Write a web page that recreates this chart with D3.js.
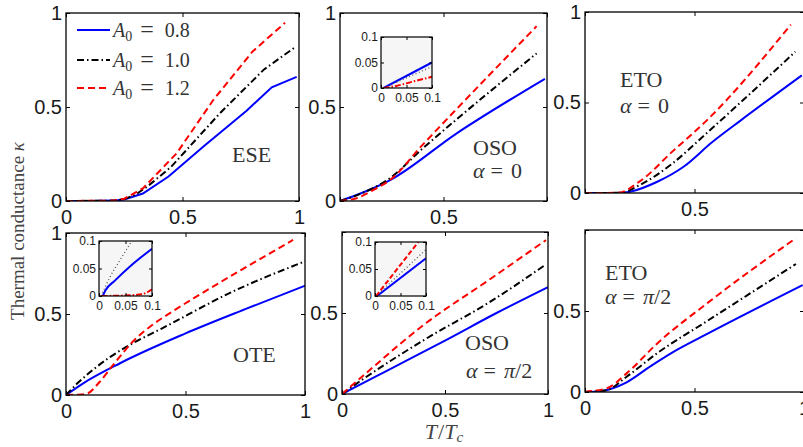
<!DOCTYPE html>
<html>
<head>
<meta charset="utf-8">
<script src="https://cdn.jsdelivr.net/npm/d3@7"></script>
<style>
body { margin: 0; background: #fff; }
svg { display: block; }
</style>
</head>
<body>
<script>
// values: x = T/Tc, y = thermal conductance kappa
var amplitudes = ["0.8", "1.0", "1.2"];
var xTicks = [0, 0.5, 1];
var yTicks = [0, 0.5, 1];
var insetTicks = [0, 0.05, 0.1];

// ESE
var eseBlue = [[0,0],[0.1,0],[0.2,0.002],[0.25,0.008],[0.33,0.04],[0.44,0.13],[0.59,0.29],[0.775,0.48],[0.883,0.605],[0.99,0.66]];
var eseBlack = [[0,0],[0.2,0.002],[0.25,0.01],[0.3,0.035],[0.35,0.078],[0.45,0.18],[0.66,0.466],[0.85,0.70],[0.98,0.815]];
var eseRed = [[0,0],[0.2,0.002],[0.25,0.012],[0.33,0.067],[0.475,0.254],[0.632,0.537],[0.80,0.794],[0.94,0.948]];

// OSO, alpha = 0
var oso0Blue = [[0,0],[0.08,0.032],[0.24,0.11],[0.564,0.36],[0.99,0.65]];
var oso0Black = [[0,0],[0.08,0.03],[0.24,0.12],[0.4,0.28],[0.564,0.435],[0.95,0.785]];
var oso0Red = [[0,0],[0.08,0.015],[0.16,0.058],[0.24,0.11],[0.4,0.3],[0.564,0.49],[0.95,0.93]];
var oso0InsetBlue = [[0.005,0],[0.1,0.05]];
var oso0InsetBlack = [[0.005,0],[0.1,0.042]];
var oso0InsetRed = [[0.005,0],[0.03,0.004],[0.06,0.012],[0.1,0.022]];

// ETO, alpha = 0
var eto0Blue = [[0,0],[0.15,0],[0.206,0.007],[0.33,0.062],[0.45,0.145],[0.58,0.28],[0.71,0.40],[0.99,0.65]];
var eto0Black = [[0,0],[0.16,0.001],[0.25,0.044],[0.4,0.164],[0.555,0.33],[0.96,0.78]];
var eto0Red = [[0,0],[0.15,0.001],[0.25,0.064],[0.4,0.23],[0.555,0.4],[0.94,0.93]];

// OTE
var oteBlue = [[0,0],[0.072,0.072],[0.226,0.196],[0.5,0.38],[0.75,0.53],[1,0.675]];
var oteBlack = [[0,0],[0.05,0.075],[0.1,0.14],[0.18,0.23],[0.28,0.32],[0.4,0.41],[0.7,0.64],[1,0.825]];
var oteRed = [[0,0],[0.05,0.002],[0.09,0.01],[0.14,0.08],[0.2,0.19],[0.28,0.33],[0.35,0.42],[0.45,0.52],[0.56,0.62],[0.95,0.957]];
var oteInsetBlue = [[0.007,0],[0.012,0.01],[0.03,0.028],[0.06,0.055],[0.1,0.086]];
var oteInsetBlack = [[0.004,0],[0.02,0.033],[0.04,0.066],[0.062,0.1]];
var oteInsetRed = [[0.005,0],[0.05,0.001],[0.08,0.003],[0.1,0.012]];

// OSO, alpha = pi/2
var oso90Blue = [[0,0],[0.25,0.165],[0.5,0.33],[0.75,0.5],[1,0.66]];
var oso90Black = [[0,0],[0.1,0.09],[0.4,0.335],[0.72,0.57],[0.99,0.8]];
var oso90Red = [[0,0],[0.1,0.11],[0.4,0.43],[0.72,0.71],[0.99,0.95]];
var oso90InsetBlue = [[0.004,0],[0.1,0.07]];
var oso90InsetBlack = [[0.002,0],[0.1,0.086]];
var oso90InsetRed = [[0.002,0],[0.085,0.1]];

// ETO, alpha = pi/2
var eto90Blue = [[0,0],[0.069,0.005],[0.19,0.06],[0.3,0.16],[0.4,0.245],[0.56,0.36],[0.994,0.66]];
var eto90Black = [[0,0],[0.1,0.012],[0.19,0.094],[0.33,0.24],[0.56,0.44],[0.963,0.79]];
var eto90Red = [[0,0.002],[0.1,0.023],[0.19,0.115],[0.33,0.3],[0.56,0.55],[0.963,0.95]];

var serif = '"Liberation Serif","DejaVu Serif",serif';
var sans = '"Liberation Sans",Arial,sans-serif';

var mainStyles = [
    {color: "#0000ff", dash: null, width: 2},
    {color: "#000000", dash: "7,3,1.5,3", width: 2},
    {color: "#ff0000", dash: "7,4", width: 2}
];

var panels = [
    {id: "ese", x: [66, 299], y: [201, 13], xShow: [0, 0.5, 1], yShow: [0, 0.5, 1], curve: d3.curveLinear,
        series: [eseBlue, eseBlack, eseRed]},
    {id: "oso0", x: [340, 547], y: [201, 13], xShow: [0.5], yShow: [0, 0.5, 1], curve: d3.curveMonotoneX,
        series: [oso0Blue, oso0Black, oso0Red],
        inset: {x: [381, 432], y: [88, 37], series: [oso0InsetBlue, oso0InsetBlack, oso0InsetRed], redDash: "6,2,1.5,2"}},
    {id: "eto0", x: [585, 804], y: [193, 12], xShow: [0.5], yShow: [0, 0.5, 1], curve: d3.curveMonotoneX,
        series: [eto0Blue, eto0Black, eto0Red]},
    {id: "ote", x: [66, 305], y: [395, 233], xShow: [0, 0.5, 1], yShow: [0, 0.5, 1], curve: d3.curveMonotoneX,
        series: [oteBlue, oteBlack, oteRed],
        inset: {x: [99, 152], y: [296, 241], series: [oteInsetBlue, oteInsetBlack, oteInsetRed], redDash: "6,2,1.5,2"}},
    {id: "oso90", x: [342, 548], y: [394, 232], xShow: [0, 0.5, 1], yShow: [0, 0.5], curve: d3.curveMonotoneX,
        series: [oso90Blue, oso90Black, oso90Red],
        inset: {x: [375, 426], y: [296, 242], series: [oso90InsetBlue, oso90InsetBlack, oso90InsetRed], redDash: "5,2.5"}},
    {id: "eto90", x: [585, 804], y: [392, 230], xShow: [0, 0.5, 1], yShow: [0, 0.5], curve: d3.curveMonotoneX,
        series: [eto90Blue, eto90Black, eto90Red]}
];

var svg = d3.select("body").append("svg")
    .attr("width", 803)
    .attr("height", 447);
var defs = svg.append("defs");
var fmt = d3.format("");

function styleAxis(g, size) {
    g.attr("font-size", size).attr("font-family", sans);
    g.select(".domain").remove();
    g.selectAll(".tick line").attr("stroke", "#000");
    g.selectAll(".tick text").attr("fill", "#1a1a1a");
}

function drawFrame(g, x, y, tick, pad, size, xShow, yShow, ticks) {
    g.append("g")
        .attr("transform", "translate(0," + y.range()[0] + ")")
        .call(d3.axisBottom(x).tickValues(ticks).tickSize(-tick).tickPadding(pad)
            .tickFormat(function (d) { return xShow.indexOf(d) >= 0 ? fmt(d) : ""; }))
        .call(styleAxis, size);
    g.append("g")
        .attr("transform", "translate(0," + y.range()[1] + ")")
        .call(d3.axisTop(x).tickValues(ticks).tickSize(-tick).tickFormat(""))
        .call(styleAxis, size);
    g.append("g")
        .attr("transform", "translate(" + x.range()[0] + ",0)")
        .call(d3.axisLeft(y).tickValues(ticks).tickSize(-tick).tickPadding(pad > 5 ? 4 : 3)
            .tickFormat(function (d) { return yShow.indexOf(d) >= 0 ? fmt(d) : ""; }))
        .call(styleAxis, size);
    g.append("g")
        .attr("transform", "translate(" + x.range()[1] + ",0)")
        .call(d3.axisRight(y).tickValues(ticks).tickSize(-tick).tickFormat(""))
        .call(styleAxis, size);
    g.append("rect")
        .attr("class", "frame")
        .attr("x", x.range()[0])
        .attr("y", y.range()[1])
        .attr("width", x.range()[1] - x.range()[0])
        .attr("height", y.range()[0] - y.range()[1])
        .attr("fill", "none")
        .attr("stroke", "#000")
        .attr("stroke-width", 1.3);
}

function clipFor(id, x, y) {
    defs.append("clipPath").attr("id", "clip-" + id)
        .append("rect")
        .attr("x", x.range()[0])
        .attr("y", y.range()[1])
        .attr("width", x.range()[1] - x.range()[0])
        .attr("height", y.range()[0] - y.range()[1]);
    return "url(#clip-" + id + ")";
}

panels.forEach(function (p) {
    var x = d3.scaleLinear().domain([0, 1]).range(p.x);
    var y = d3.scaleLinear().domain([0, 1]).range(p.y);
    var g = svg.append("g").attr("class", "panel " + p.id);

    var line = d3.line()
        .x(function (d) { return x(d[0]); })
        .y(function (d) { return y(d[1]); })
        .curve(p.curve);

    g.append("g")
        .attr("clip-path", clipFor(p.id, x, y))
        .selectAll("path")
        .data(p.series)
        .join("path")
        .attr("d", line)
        .attr("fill", "none")
        .attr("stroke", function (d, i) { return mainStyles[i].color; })
        .attr("stroke-width", function (d, i) { return mainStyles[i].width; })
        .attr("stroke-dasharray", function (d, i) { return mainStyles[i].dash; });

    drawFrame(g, x, y, 4, 9, 20, p.xShow, p.yShow, xTicks);

    if (p.inset) {
        var ix = d3.scaleLinear().domain([0, 0.1]).range(p.inset.x);
        var iy = d3.scaleLinear().domain([0, 0.1]).range(p.inset.y);
        var ig = svg.append("g").attr("class", "inset");
        ig.append("rect")
            .attr("x", p.inset.x[0]).attr("y", p.inset.y[1])
            .attr("width", p.inset.x[1] - p.inset.x[0])
            .attr("height", p.inset.y[0] - p.inset.y[1])
            .attr("fill", "#f6f6f6");
        var insetStyles = [
            {color: "#0000ff", dash: null, width: 2},
            {color: "#555", dash: "1,2.5", width: 1.3},
            {color: "#ff0000", dash: p.inset.redDash, width: 2}
        ];
        var iline = d3.line()
            .x(function (d) { return ix(d[0]); })
            .y(function (d) { return iy(d[1]); })
            .curve(d3.curveMonotoneX);
        ig.append("g")
            .attr("clip-path", clipFor(p.id + "-inset", ix, iy))
            .selectAll("path")
            .data(p.inset.series)
            .join("path")
            .attr("d", iline)
            .attr("fill", "none")
            .attr("stroke", function (d, i) { return insetStyles[i].color; })
            .attr("stroke-width", function (d, i) { return insetStyles[i].width; })
            .attr("stroke-dasharray", function (d, i) { return insetStyles[i].dash; });
        drawFrame(ig, ix, iy, 3, 5, 12, insetTicks, insetTicks, insetTicks);
        ig.select("rect.frame").attr("stroke-width", 1.2);
    }
});

// text helpers
function label(x, y, txt, size) {
    return svg.append("text")
        .attr("x", x).attr("y", y)
        .attr("font-family", serif)
        .attr("font-size", size || 22)
        .attr("fill", "#333")
        .text(txt);
}

function equation(x, y, size, lhs, sub, rhs, gapL, gapR, eqScale) {
    var t = svg.append("text")
        .attr("x", x).attr("y", y)
        .attr("font-family", serif)
        .attr("font-size", size)
        .attr("fill", "#333");
    t.append("tspan").attr("font-style", "italic").text(lhs);
    if (sub) {
        t.append("tspan").attr("font-size", size * 0.7).attr("dy", size * 0.22).text(sub);
    }
    t.append("tspan").attr("dx", gapL).attr("dy", sub ? -size * 0.22 : null)
        .attr("font-size", size * (eqScale || 1)).text("=");
    rhs.forEach(function (r, i) {
        var s = t.append("tspan").text(r[0]);
        if (i === 0) s.attr("dx", gapR);
        if (r[1]) s.attr("font-style", "italic");
    });
    return t;
}

// legend (first panel)
var legend = svg.append("g").attr("class", "legend");
amplitudes.forEach(function (a, i) {
    var ly = [30, 60, 88][i];
    legend.append("line")
        .attr("x1", 77).attr("x2", 110)
        .attr("y1", ly).attr("y2", ly)
        .attr("stroke", mainStyles[i].color)
        .attr("stroke-width", 2)
        .attr("stroke-dasharray", mainStyles[i].dash);
    equation(113, ly + 6.5, 20, "A", "0", [[a, false]], 8, 11, 1.2);
});

label(232, 162, "ESE");
label(473, 155, "OSO");
equation(473, 178, 22, "\u03b1", null, [["0", false]], 6, 8);
label(620, 87, "ETO");
equation(620, 113, 22, "\u03b1", null, [["0", false]], 6, 8);
label(233, 362, "OTE");
label(465, 350, "OSO");
equation(466, 378, 22, "\u03b1", null, [["\u03c0", true], ["/2", false]], 6, 8);
label(605, 280, "ETO");
equation(605, 304, 22, "\u03b1", null, [["\u03c0", true], ["/2", false]], 6, 8);

// axis titles
var yt = svg.append("text")
    .attr("transform", "translate(24,231) rotate(-90)")
    .attr("text-anchor", "middle")
    .attr("font-family", serif)
    .attr("font-size", 19)
    .attr("fill", "#444");
yt.append("tspan").text("Thermal conductance ");
yt.append("tspan").attr("font-style", "italic").text("\u03ba");

var xt = svg.append("text")
    .attr("x", 444).attr("y", 439)
    .attr("text-anchor", "middle")
    .attr("font-family", serif)
    .attr("font-size", 22)
    .attr("fill", "#444");
xt.append("tspan").attr("font-style", "italic").text("T");
xt.append("tspan").attr("dx", 1).text("/");
xt.append("tspan").attr("font-style", "italic").text("T");
xt.append("tspan").attr("font-style", "italic").attr("font-size", 15).attr("dy", 3).text("c");
</script>
</body>
</html>
